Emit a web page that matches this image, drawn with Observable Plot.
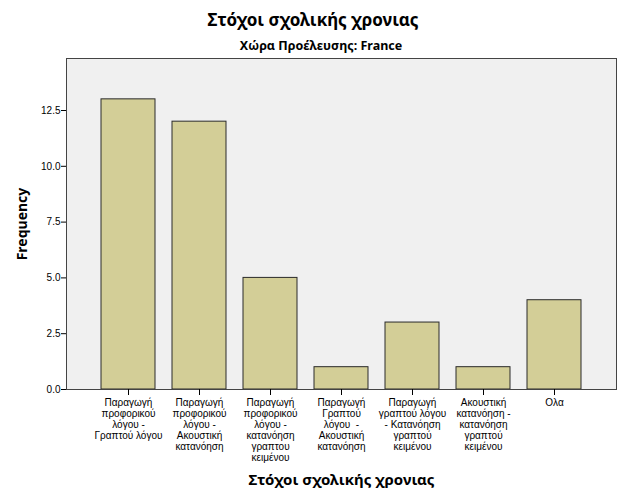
<!DOCTYPE html>
<html><head><meta charset="utf-8">
<script src="https://cdn.jsdelivr.net/npm/d3@7"></script>
<script src="https://cdn.jsdelivr.net/npm/@observablehq/plot@0.6"></script>
<style>
body{margin:0;background:#fff;}
#wrap{position:relative;width:626px;height:501px;}
.t{position:absolute;left:0;width:626px;text-align:center;font-family:"Noto Sans","DejaVu Sans",sans-serif;font-weight:bold;color:#000;}
</style></head>
<body><div id="wrap">
<div class="t" id="title" style="top:8px;font-size:17px;">Στόχοι σχολικής χρονιας</div>
<div class="t" id="sub" style="top:37px;font-size:12.5px;left:8px;">Χώρα Προέλευσης: France</div>
<div id="chart" style="position:absolute;left:0;top:0;"></div>
</div>
<script>
const categories = [
  "Παραγωγή\nπροφορικού\nλόγου -\nΓραπτού λόγου",
  "Παραγωγή\nπροφορικού\nλόγου -\nΑκουστική\nκατανόηση",
  "Παραγωγή\nπροφορικού\nλόγου -\nκατανόηση\nγραπτου\nκειμένου",
  "Παραγωγή\nΓραπτού\nλόγου  -\nΑκουστική\nκατανόηση",
  "Παραγωγή\nγραπτού λόγου\n- Κατανόηση\nγραπτού\nκειμένου",
  "Ακουστική\nκατανόηση -\nκατανόηση\nγραπτού\nκειμένου",
  "Ολα"
];
const frequencies = [13, 12, 5, 1, 3, 1, 4];
const yTicks = [0, 2.5, 5, 7.5, 10, 12.5];
const xTitle = "Στόχοι σχολικής χρονιας";
const yTitle = "Frequency";

const data = categories.map((c, i) => ({cat: c, n: frequencies[i]}));

const chart = Plot.plot({
  width: 626,
  height: 501,
  marginTop: 58,
  marginBottom: 112,
  marginLeft: 66,
  marginRight: 10,
  style: {fontFamily: "'Liberation Sans', Arial, sans-serif", fontSize: "10px", color: "#000", background: "transparent"},
  x: {domain: categories, paddingInner: 0.24, paddingOuter: 0.485, label: null},
  y: {domain: [0, 14.83], label: null},
  marks: [
    Plot.frame({fill: "#f0f0f0", stroke: "none"}),
    Plot.barY(data, {x: "cat", y: "n", fill: "#d3ce97", stroke: "#2a2a2a", strokeWidth: 1}),
    Plot.frame({stroke: "#444", strokeWidth: 1}),
    Plot.axisY({ticks: yTicks, tickFormat: d => d.toFixed(1), tickSize: 5, tickPadding: 1, fontSize: 10, label: null}),
    Plot.axisX({tickSize: 6, tickPadding: 3, fontSize: 10, lineHeight: 1.1, label: null}),
    Plot.text([xTitle], {frameAnchor: "bottom", dy: 95, fontSize: 15, fontWeight: "bold", fontFamily: "'Noto Sans','DejaVu Sans',sans-serif"}),
    Plot.text([yTitle], {frameAnchor: "left", textAnchor: "middle", dx: -44, rotate: -90, fontSize: 14, fontWeight: "bold", fontFamily: "'Noto Sans','DejaVu Sans',sans-serif"})
  ]
});
document.getElementById("chart").appendChild(chart);
</script>
</body></html>
